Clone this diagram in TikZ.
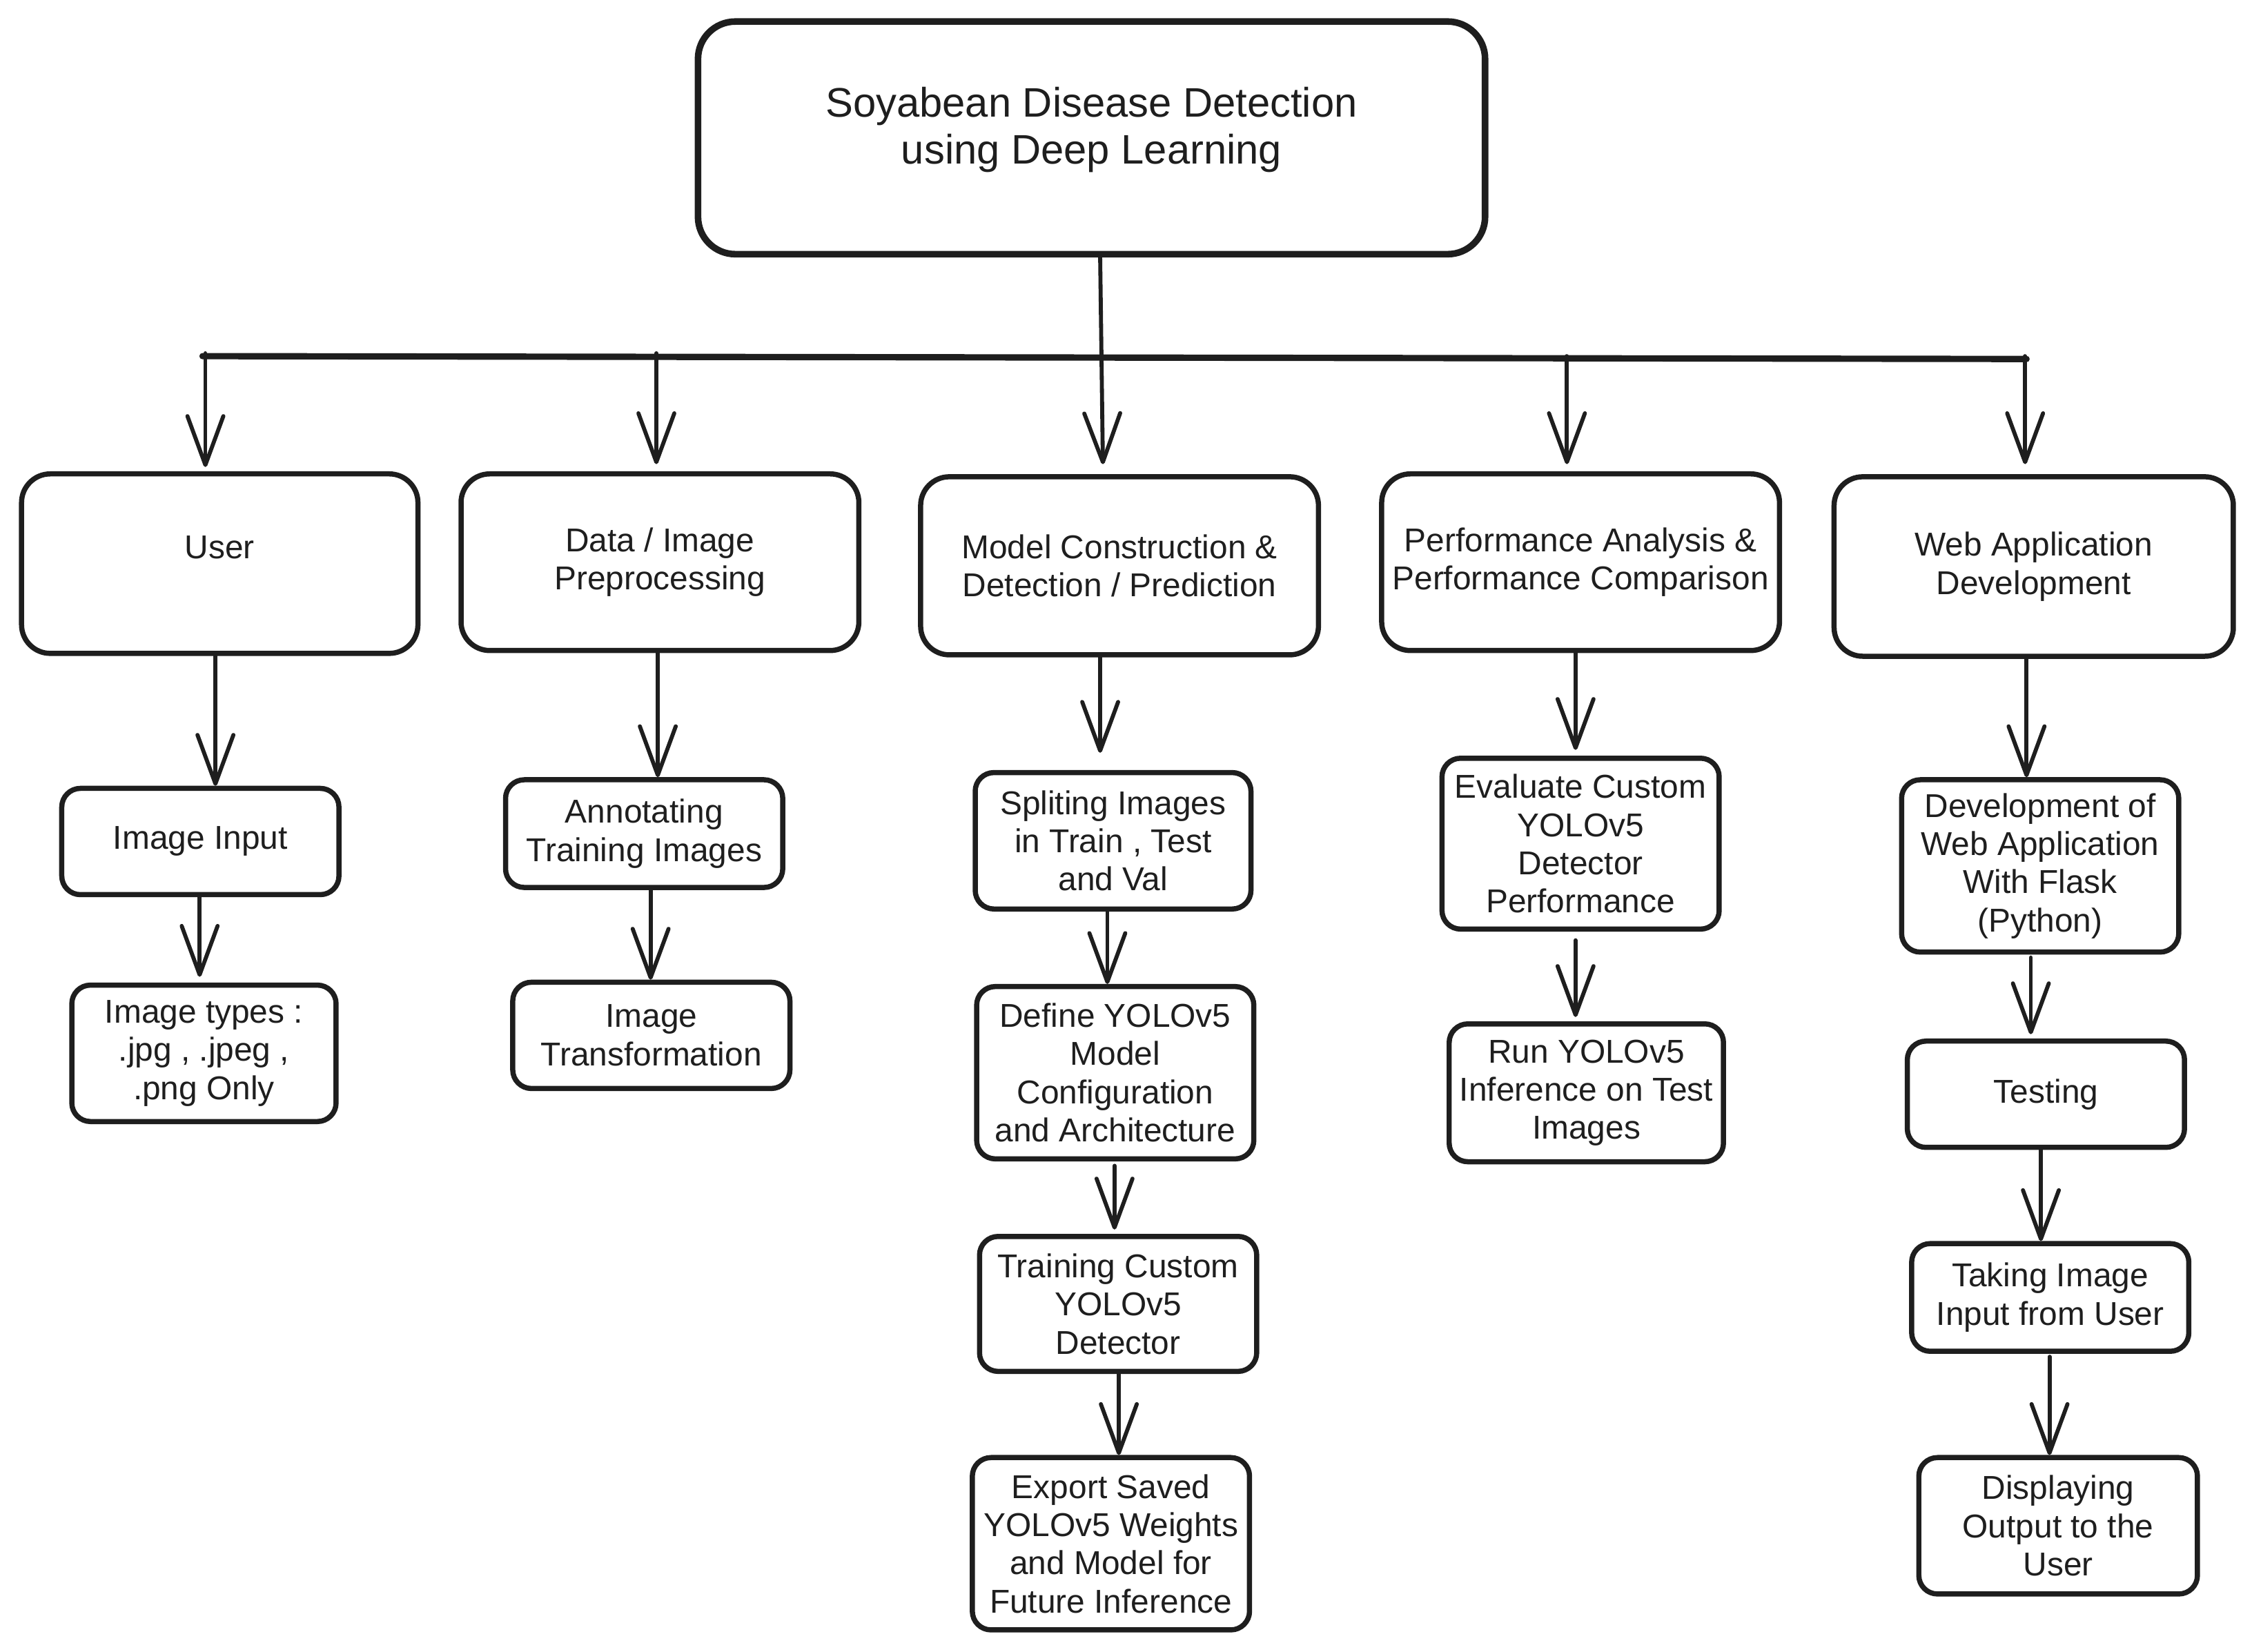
\documentclass[tikz,border=0pt]{standalone}
\usepackage{fontspec}
\setmainfont{Liberation Sans}
\usetikzlibrary{arrows.meta}
\definecolor{ink}{HTML}{1E1E1E}
\begin{document}
\begin{tikzpicture}[x=1pt,y=-1pt,
  box/.style={draw=ink, text=ink, line width=3.6pt, align=center, inner sep=0pt,
    font=\fontsize{23}{26.6}\selectfont},
  topbox/.style={box, line width=4.6pt, rounded corners=26pt, minimum width=548pt, minimum height=162pt,
    font=\fontsize{28.7}{32.5}\selectfont},
  lvlone/.style={box, rounded corners=20pt, minimum width=277pt, minimum height=124pt},
  leaf/.style={box, rounded corners=13pt, minimum width=193pt},
  arr/.style={draw=ink, line width=2.8pt, line cap=round,
    -{Straight Barb[length=34pt,width=25pt,round]}},
  barline/.style={draw=ink, line width=4.4pt, line cap=round},
]
\useasboundingbox (0,0) rectangle (1568,1150.4);

% title
\node[topbox, text depth=17pt] (title) at (760,96) {Soyabean Disease Detection\\ using Deep Learning};

% level one
\node[lvlone, minimum width=276pt, minimum height=125pt, text depth=23pt] (user) at (153,392.5) {User};
\node[lvlone, minimum height=123pt] (data) at (459.5,391.5) {Data / Image\\ Preprocessing};
\node[lvlone] (model) at (779.5,394) {Model Construction \&\\ Detection / Prediction};
\node[lvlone, minimum height=123pt] (perf) at (1100.5,391.5) {Performance Analysis \&\\ Performance Comparison};
\node[lvlone, minimum width=278pt, minimum height=125pt] (web) at (1416,394.5) {Web Application\\ Development};

% user column
\node[leaf, minimum height=74pt] (imgin) at (139.5,586) {Image Input};
\node[leaf, minimum width=184pt, minimum height=95pt] (types) at (142,733.5) {Image types :\\ .jpg , .jpeg ,\\ .png Only};

% data column
\node[leaf, minimum height=75pt] (annot) at (448.5,580.5) {Annotating\\ Training Images};
\node[leaf, minimum height=74pt] (transf) at (453.5,721) {Image\\ Transformation};

% model column
\node[leaf, minimum width=192pt, minimum height=95pt] (split) at (775,585.5) {Spliting Images\\ in Train , Test\\ and Val};
\node[leaf, minimum height=120pt] (define) at (776.5,747) {Define YOLOv5\\ Model\\ Configuration\\ and Architecture};
\node[leaf, minimum height=94pt] (train) at (778.5,908) {Training Custom\\ YOLOv5\\ Detector};
\node[leaf, minimum height=120pt] (export) at (773.5,1075) {Export Saved\\ YOLOv5 Weights\\ and Model for\\ Future Inference};

% performance column
\node[leaf, minimum height=119pt] (eval) at (1100.5,587.5) {Evaluate Custom\\ YOLOv5\\ Detector\\ Performance};
\node[leaf, minimum width=191pt, minimum height=96pt] (run) at (1104.5,761) {Run YOLOv5\\ Inference on Test\\ Images};

% web column
\node[leaf, minimum height=120pt] (dev) at (1420.5,603) {Development of\\ Web Application\\ With Flask\\ (Python)};
\node[leaf, minimum height=74pt] (test) at (1424.5,762) {Testing};
\node[leaf, minimum height=75pt] (take) at (1427.5,903.5) {Taking Image\\ Input from User};
\node[leaf, minimum width=194pt, minimum height=95pt] (disp) at (1433,1062.5) {Displaying\\ Output to the\\ User};

% distribution bar
\coordinate (bl) at (141,248);
\coordinate (br) at (1411,250);
\draw[barline] (bl) -- (br);
\coordinate (b1) at (143,246);
\coordinate (b2) at (457,246);
\coordinate (b4) at (1091,248);
\coordinate (b5) at (1410,248);

\draw[arr, shorten >=7pt] (title.south -| 766,0) -- (model.north -| 768,0);
\draw[arr, shorten >=3pt] (b1) -- (user.north -| b1);
\draw[arr, shorten >=5pt] (b2) -- (data.north -| b2);
\draw[arr, shorten >=5pt] (b4) -- (perf.north -| b4);
\draw[arr, shorten >=7pt] (b5) -- (web.north -| b5);

% user column arrows
\draw[arr] (user.south -| 150,0) -- (imgin.north -| 150,0);
\draw[arr] (imgin.south -| 139,0) -- ([yshift=4pt]types.north -| 139,0);

% data column arrows
\draw[arr] (data.south -| 458,0) -- (annot.north -| 458,0);
\draw[arr] (annot.south -| 453,0) -- (transf.north -| 453,0);

% model column arrows
\draw[arr, shorten >=12pt] (model.south -| 766,0) -- (split.north -| 766,0);
\draw[arr] (split.south -| 771,0) -- (define.north -| 771,0);
\draw[arr, shorten >=3pt, shorten <=3pt] (define.south -| 776,0) -- (train.north -| 776,0);
\draw[arr] (train.south -| 779,0) -- (export.north -| 779,0);

% performance column arrows
\draw[arr, shorten >=4pt] (perf.south -| 1097,0) -- (eval.north -| 1097,0);
\draw[arr, shorten <=6pt, shorten >=3pt] (eval.south -| 1097,0) -- (run.north -| 1097,0);

% web column arrows
\draw[arr] (web.south -| 1411,0) -- (dev.north -| 1411,0);
\draw[arr, shorten <=2pt, shorten >=3pt] (dev.south -| 1414,0) -- (test.north -| 1414,0);
\draw[arr] (test.south -| 1421,0) -- (take.north -| 1421,0);
\draw[arr, shorten <=2pt] (take.south -| 1427,0) -- (disp.north -| 1427,0);
\end{tikzpicture}
\end{document}
